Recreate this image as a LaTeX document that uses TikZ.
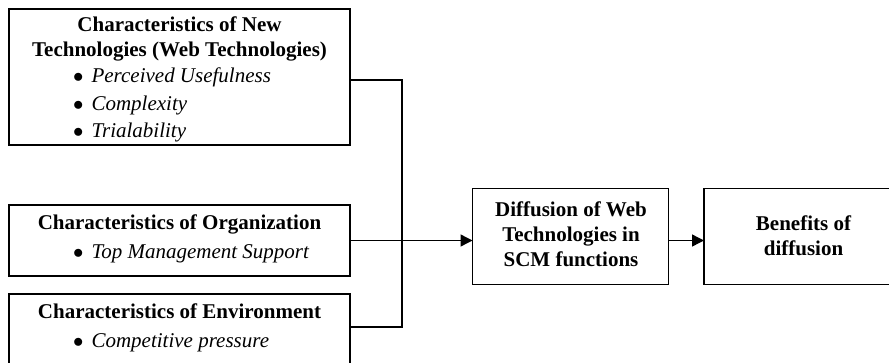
\documentclass[tikz,border=0pt]{standalone}
\usepackage{fontspec}
\setmainfont{Liberation Serif}
\usetikzlibrary{arrows.meta}
\newcommand{\mybul}{{\upshape$\bullet$}\hspace{8pt}}
\begin{document}
\begin{tikzpicture}[x=1pt,y=-1pt,
  box/.style={draw, line width=1.2pt, inner sep=0pt, outer sep=0pt},
  head/.style={font=\fontsize{21}{25}\selectfont\bfseries, anchor=base, inner sep=0pt},
  item/.style={font=\fontsize{21}{25}\selectfont\itshape, anchor=base west, inner sep=0pt},
  conn/.style={line width=1.4pt},
  arr/.style={conn, -{Triangle[length=12pt,width=12pt]}}]
\useasboundingbox (0,0) rectangle (889,362);
\clip (0,0) rectangle (889,362);
% boxes
\node[box, minimum width=341pt, minimum height=136pt] (b1) at (179.5,77) {};
\node[box, minimum width=341pt, minimum height=71pt] (b2) at (179.5,240.5) {};
\node[box, minimum width=341pt, minimum height=100pt] (b3) at (179.5,344) {};
\node[box, minimum width=196pt, minimum height=96pt] (d) at (570.5,236.5) {};
\node[box, minimum width=200pt, minimum height=96pt] (bn) at (804,236.5) {};
% texts box 1
\node[head] (t1a) at (179.5,31) {Characteristics of New};
\node[head] (t1b) at (179.5,56) {Technologies (Web Technologies)};
\node[item] (t1c) at (73,82) {\mybul Perceived Usefulness};
\node[item] (t1d) at (73,110) {\mybul Complexity};
\node[item] (t1e) at (73,137) {\mybul Trialability};
% texts box 2
\node[head] (t2a) at (179.5,229) {Characteristics of Organization};
\node[item] (t2b) at (73,258) {\mybul Top Management Support};
% texts box 3
\node[head] (t3a) at (179.5,318) {Characteristics of Environment};
\node[item] (t3b) at (73,347) {\mybul Competitive pressure};
% diffusion
\node[head] (td1) at (571,216) {Diffusion of Web};
\node[head] (td2) at (571,241) {Technologies in};
\node[head] (td3) at (571,266) {SCM functions};
% benefits
\node[head] (tb1) at (803.5,230) {Benefits of};
\node[head] (tb2) at (803.5,255) {diffusion};
% connectors
\coordinate (jt) at (402,80);
\coordinate (jb) at (402,327);
\draw[conn] (b1.east |- jt) -- (jt) -- (jb) -- (b3.east |- jb);
\draw[arr] (b2.east) -- (d.west |- b2.east);
\draw[arr] (d.east |- b2.east) -- (bn.west |- b2.east);
\end{tikzpicture}
\end{document}
